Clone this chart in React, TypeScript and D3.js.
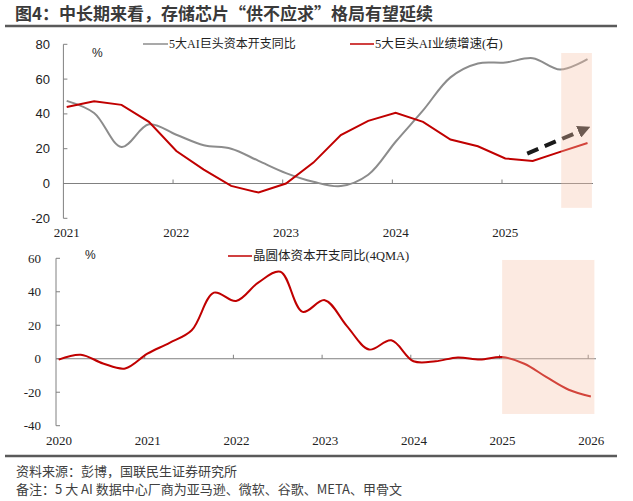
import * as d3 from 'd3';

// 季度序列：2021Q1 – 2025Q4
const capexQuarters = [
  '2021Q1', '2021Q2', '2021Q3', '2021Q4', '2022Q1', '2022Q2', '2022Q3', '2022Q4',
  '2023Q1', '2023Q2', '2023Q3', '2023Q4', '2024Q1', '2024Q2', '2024Q3', '2024Q4',
  '2025Q1', '2025Q2', '2025Q3', '2025Q4',
];
// 5大AI巨头资本开支同比 (%)
const capexYoy = [
  47.5, 40.5, 21, 34, 28, 22, 20, 13, 6, 1, -1.5, 5, 24, 42, 61, 69, 69.5, 72, 65.5, 71.5,
];
// 5大巨头AI业绩增速 (右)
const aiGrowth = [
  44, 47.3, 45.2, 35.4, 18.7, 8, -1.4, -5.2, 0, 12, 27.8, 36, 40.6, 35.4, 25.3, 21.4, 14.4, 13,
  18.2, 23.3,
];

// 晶圆体资本开支同比 (4QMA)：2020Q1 – 2026Q1
const waferQuarters = [
  '2020Q1', '2020Q2', '2020Q3', '2020Q4', '2021Q1', '2021Q2', '2021Q3', '2021Q4',
  '2022Q1', '2022Q2', '2022Q3', '2022Q4', '2023Q1', '2023Q2', '2023Q3', '2023Q4',
  '2024Q1', '2024Q2', '2024Q3', '2024Q4', '2025Q1', '2025Q2', '2025Q3', '2025Q4', '2026Q1',
];
const waferCapex = [
  -0.5, 2.4, -2.8, -5.8, 3, 9.5, 17, 39.5, 34.5, 45.5, 52, 28, 35, 19.5, 5.5, 11, -1.5, -1.5,
  0.8, -0.5, 1, -3, -11, -18.5, -22.5,
];

const topYears = [2021, 2022, 2023, 2024, 2025];
const topYTicks = [-20, 0, 20, 40, 60, 80];
const bottomYears = [2020, 2021, 2022, 2023, 2024, 2025, 2026];
const bottomYTicks = [-40, -20, 0, 20, 40, 60];

// 预测区间（阴影）
const topShade = { from: 2025.54, to: 2025.82, hi: 75, lo: -14 };
const bottomShade = { from: 2025.03, to: 2026.07, hi: 59, lo: -33 };
// 趋势箭头（年份, 值）
const trendArrow = { x1: 2025.23, y1: 17.2, x2: 2025.72, y2: 30.3 };

const TITLE = '图4：中长期来看，存储芯片“供不应求”格局有望延续';
const SOURCE = '资料来源：彭博，国联民生证券研究所';
const NOTE = '备注：5 大 AI 数据中心厂商为亚马逊、微软、谷歌、META、甲骨文';

const RED = '#c00000';
const GREY = '#8c8c8c';
const AXIS = '#808080';
const SHADE = '#f6c4a8';
const SANS = '"Liberation Sans", Arial, sans-serif';
const SERIF = '"Liberation Serif", "Times New Roman", serif';
const CJK = '"Noto Sans CJK SC", sans-serif';
const LEGEND_FONT = '"Liberation Serif", "Noto Sans CJK SC", serif';

// "2021Q3" -> 年份小数，季度点略偏离年初刻度
const quarterToYear = (q: string) => +q.slice(0, 4) + (+q.slice(5) - 1) * 0.25 + 0.03;

export default function App() {
  const width = 633;
  const height = 501;

  // 上图
  const xTop = d3.scaleLinear().domain([2021, 2025.83]).range([63.4, 593]);
  const yTop = d3.scaleLinear().domain([-20, 80]).range([218.3, 44.3]);
  // 下图
  const xBot = d3.scaleLinear().domain([2020, 2026]).range([56, 588.2]);
  const yBot = d3.scaleLinear().domain([-40, 60]).range([425.7, 258.3]);

  const topSmooth = d3
    .line<number>()
    .x((_, i) => xTop(quarterToYear(capexQuarters[i])))
    .y((d) => yTop(d))
    .curve(d3.curveCatmullRom.alpha(0.5));
  const topLinear = d3
    .line<number>()
    .x((_, i) => xTop(quarterToYear(capexQuarters[i])))
    .y((d) => yTop(d));
  const botSmooth = d3
    .line<number>()
    .x((_, i) => xBot(quarterToYear(waferQuarters[i])))
    .y((d) => yBot(d))
    .curve(d3.curveCatmullRom.alpha(0.5));

  const ax1 = xTop(trendArrow.x1);
  const ay1 = yTop(trendArrow.y1);
  const ax2 = xTop(trendArrow.x2);
  const ay2 = yTop(trendArrow.y2);

  return (
    <svg
      width={width}
      height={height}
      style={{ position: 'absolute', left: 0, top: 0, background: '#fff' }}
    >
      <defs>
        <marker
          id="arrowHead"
          viewBox="0 0 10 10"
          refX="2"
          refY="5"
          markerWidth="3.2"
          markerHeight="3.2"
          orient="auto"
        >
          <path d="M0,0 L10,5 L0,10 Z" fill="#222" />
        </marker>
      </defs>

      {/* 标题 */}
      <text x={15} y={20} fontFamily={CJK} fontSize={17} fontWeight="bold" fill="#3a3a3a">
        {TITLE}
      </text>
      <line x1={5} x2={617} y1={26} y2={26} stroke="#5a5a5a" strokeWidth={2.5} />

      {/* ===== 上图 ===== */}
      <line x1={xTop(2021)} x2={xTop(2021)} y1={yTop(80)} y2={yTop(-20)} stroke={AXIS} />
      {topYTicks.map((t) => (
        <g key={`ty${t}`}>
          <line x1={xTop(2021)} x2={xTop(2021) + 4} y1={yTop(t)} y2={yTop(t)} stroke={AXIS} />
          <text
            x={50}
            y={yTop(t)}
            dy="0.35em"
            textAnchor="end"
            fontFamily={SANS}
            fontSize={13}
            fill="#222"
          >
            {t}
          </text>
        </g>
      ))}
      <line x1={xTop(2021)} x2={593} y1={yTop(0)} y2={yTop(0)} stroke={AXIS} />
      {topYears.map((yr) => (
        <g key={`tx${yr}`}>
          {yr > 2021 && (
            <line x1={xTop(yr)} x2={xTop(yr)} y1={yTop(0)} y2={yTop(0) - 4} stroke={AXIS} />
          )}
          <text
            x={xTop(yr + 0.03)}
            y={237}
            textAnchor="middle"
            fontFamily={SERIF}
            fontSize={13}
            fill="#222"
          >
            {yr}
          </text>
        </g>
      ))}
      <text x={92} y={57} fontFamily={SANS} fontSize={12} fill="#222">
        %
      </text>

      <path d={topSmooth(capexYoy) ?? ''} fill="none" stroke={GREY} strokeWidth={2} />
      <path d={topLinear(aiGrowth) ?? ''} fill="none" stroke={RED} strokeWidth={2} />

      <line
        x1={ax1}
        y1={ay1}
        x2={ax2}
        y2={ay2}
        stroke="#1a1a1a"
        strokeWidth={4}
        strokeDasharray="12,7"
        markerEnd="url(#arrowHead)"
      />

      <rect
        x={xTop(topShade.from)}
        y={yTop(topShade.hi)}
        width={xTop(topShade.to) - xTop(topShade.from)}
        height={yTop(topShade.lo) - yTop(topShade.hi)}
        fill={SHADE}
        opacity={0.35}
      />

      {/* 上图图例 */}
      <line x1={143} x2={168} y1={44} y2={44} stroke={GREY} strokeWidth={1.5} />
      <text x={169} y={44} dy="0.35em" fontFamily={LEGEND_FONT} fontSize={12} fill="#222">
        5大AI巨头资本开支同比
      </text>
      <line x1={350} x2={374} y1={44} y2={44} stroke={RED} strokeWidth={1.5} />
      <text x={375} y={44} dy="0.35em" fontFamily={LEGEND_FONT} fontSize={12.5} fill="#222">
        5大巨头AI业绩增速(右)
      </text>

      {/* ===== 下图 ===== */}
      <line x1={xBot(2020)} x2={xBot(2020)} y1={yBot(60)} y2={yBot(-40)} stroke={AXIS} />
      {bottomYTicks.map((t) => (
        <g key={`by${t}`}>
          <line x1={xBot(2020)} x2={xBot(2020) + 4} y1={yBot(t)} y2={yBot(t)} stroke={AXIS} />
          <text
            x={41}
            y={yBot(t)}
            dy="0.35em"
            textAnchor="end"
            fontFamily={SERIF}
            fontSize={13}
            fill="#222"
          >
            {t}
          </text>
        </g>
      ))}
      <line x1={xBot(2020)} x2={596} y1={yBot(0)} y2={yBot(0)} stroke={AXIS} />
      {bottomYears.map((yr) => (
        <g key={`bx${yr}`}>
          {yr > 2020 && (
            <line x1={xBot(yr)} x2={xBot(yr)} y1={yBot(0)} y2={yBot(0) - 4} stroke={AXIS} />
          )}
          <text
            x={xBot(yr + 0.035)}
            y={445}
            textAnchor="middle"
            fontFamily={SERIF}
            fontSize={13}
            fill="#222"
          >
            {yr}
          </text>
        </g>
      ))}
      <text x={85} y={259} fontFamily={SANS} fontSize={12} fill="#222">
        %
      </text>

      <path d={botSmooth(waferCapex) ?? ''} fill="none" stroke={RED} strokeWidth={2} />

      <rect
        x={xBot(bottomShade.from)}
        y={yBot(bottomShade.hi)}
        width={xBot(bottomShade.to) - xBot(bottomShade.from)}
        height={yBot(bottomShade.lo) - yBot(bottomShade.hi)}
        fill={SHADE}
        opacity={0.35}
      />

      {/* 下图图例 */}
      <line x1={228} x2={252} y1={256} y2={256} stroke={RED} strokeWidth={1.5} />
      <text x={253} y={256} dy="0.35em" fontFamily={LEGEND_FONT} fontSize={12.5} fill="#222">
        晶圆体资本开支同比(4QMA)
      </text>

      {/* 资料来源 */}
      <line x1={5} x2={617} y1={456} y2={456} stroke="#5a5a5a" strokeWidth={2.5} />
      <text x={16} y={471} dy="0.35em" fontFamily={CJK} fontSize={13} fill="#404040">
        {SOURCE}
      </text>
      <text x={16} y={489} dy="0.35em" fontFamily={CJK} fontSize={13} fill="#404040">
        {NOTE}
      </text>
    </svg>
  );
}
